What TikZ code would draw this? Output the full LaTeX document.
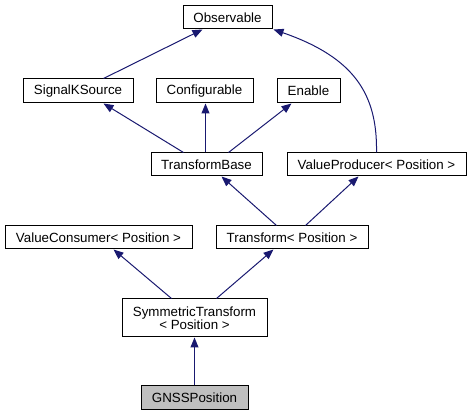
\documentclass[tikz,border=0pt]{standalone}
\usepackage{fontspec}
\setmainfont{Liberation Sans}
\usetikzlibrary{arrows.meta,calc}
\definecolor{edgeblue}{HTML}{191970}
\definecolor{leafgray}{HTML}{BFBFBF}
\tikzset{
  cls/.style={draw=black, line width=0.75pt, fill=white, rectangle, inner sep=0pt, font=\fontsize{10}{10}\selectfont, align=center},
  leaf/.style={cls, fill=leafgray},
  inh/.style={draw=edgeblue, line width=0.75pt, -{Triangle[length=7.5pt,width=6pt]}},
}
\begin{document}
\begin{tikzpicture}[x=0.75pt,y=-0.75pt]
\useasboundingbox (0,0) rectangle (472,416);
\node[cls, minimum width=89*0.75pt, minimum height=23*0.75pt] (obs) at (227.5,17.5) {Observable};
\node[cls, minimum width=110*0.75pt, minimum height=24*0.75pt] (sks) at (78,91) {SignalKSource};
\node[cls, minimum width=97*0.75pt, minimum height=24*0.75pt] (cfg) at (204.5,91) {Configurable};
\node[cls, minimum width=63*0.75pt, minimum height=24*0.75pt] (ena) at (308.5,91) {Enable};
\node[cls, minimum width=111*0.75pt, minimum height=23*0.75pt] (tb) at (206.5,164.5) {TransformBase};
\node[cls, minimum width=179*0.75pt, minimum height=23*0.75pt] (vp) at (376.5,164.5) {ValueProducer< Position >};
\node[cls, minimum width=187*0.75pt, minimum height=23*0.75pt] (vc) at (98.5,237.5) {ValueConsumer< Position >};
\node[cls, minimum width=152*0.75pt, minimum height=23*0.75pt] (tr) at (292,237.5) {Transform< Position >};
\node[cls, minimum width=145*0.75pt, minimum height=38*0.75pt] (st) at (194.5,318) {SymmetricTransform\\< Position >};
\node[leaf, minimum width=107*0.75pt, minimum height=24*0.75pt] (gnss) at (194.5,398) {GNSSPosition};

% edges
\draw[inh] ($(sks.north west)+(81,0)$) -- ($(obs.south west)+(20,0)$);
\draw[inh] ($(vp.north west)+(90,0)$) .. controls ($(vp.north west)+(91,-58)$) and ($(obs.south east)+(82,28)$) .. ($(obs.south east)+(1,0)$);
\draw[inh] ($(tb.north west)+(33,0)$) -- ($(sks.south west)+(81,0)$);
\draw[inh] ($(tb.north west)+(55,0)$) -- ($(cfg.south west)+(50,0)$);
\draw[inh] ($(tb.north west)+(78,0)$) -- ($(ena.south west)+(15,0)$);
\draw[inh] ($(tr.north west)+(61,0)$) -- ($(tb.south west)+(71,0)$);
\draw[inh] ($(tr.north west)+(90,0)$) -- ($(vp.south west)+(72,0)$);
\draw[inh] ($(st.north west)+(50,0)$) -- ($(vc.south west)+(109,0)$);
\draw[inh] ($(st.north west)+(95,0)$) -- ($(tr.south west)+(58,0)$);
\draw[inh] (gnss.north) -- (st.south);
\end{tikzpicture}
\end{document}
